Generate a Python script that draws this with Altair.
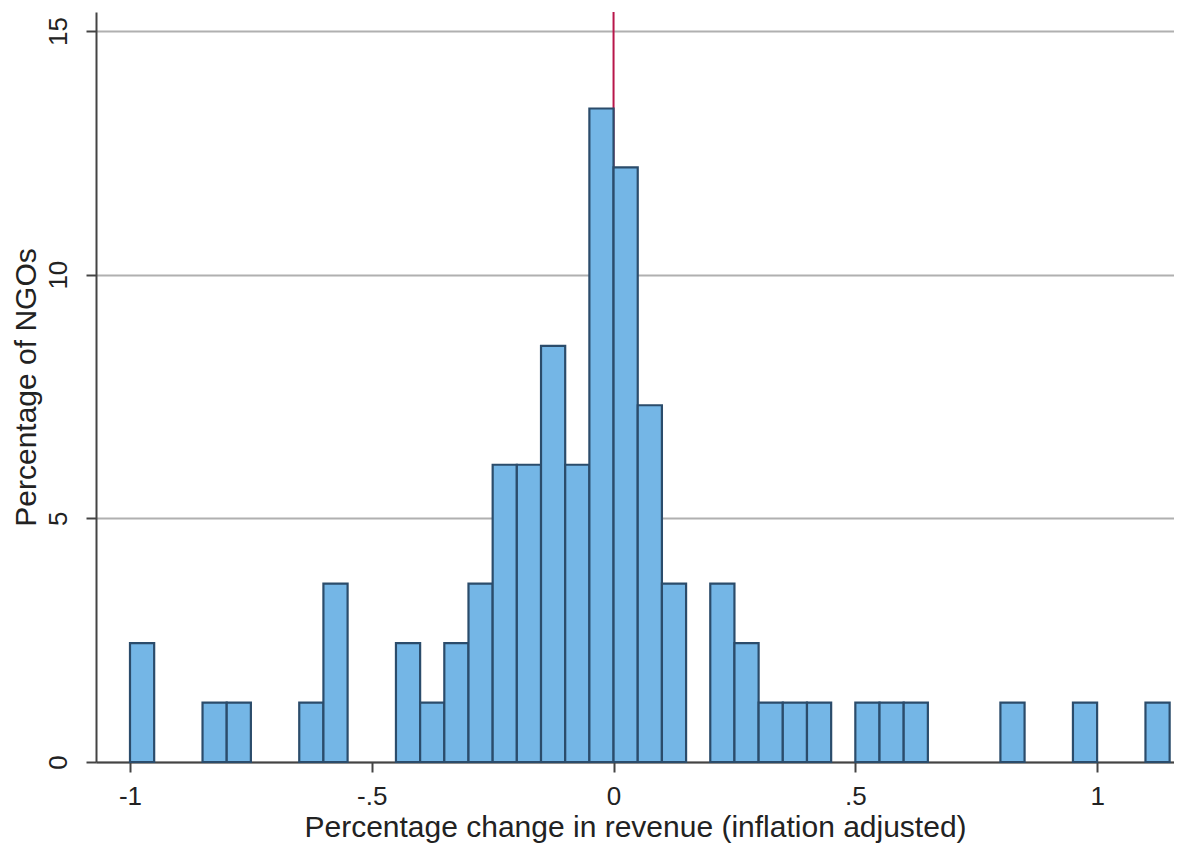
import altair as alt
import pandas as pd

# Histogram bins (width 0.05), start of each non-empty bin and its percentage
bin_start = [-1.00, -0.85, -0.80, -0.65, -0.60, -0.45, -0.40, -0.35, -0.30, -0.25,
             -0.20, -0.15, -0.10, -0.05, 0.00, 0.05, 0.10, 0.20, 0.25, 0.30,
             0.35, 0.40, 0.50, 0.55, 0.60, 0.80, 0.95, 1.10]
percent = [2.44, 1.22, 1.22, 1.22, 3.66, 2.44, 1.22, 2.44, 3.66, 6.10,
           6.10, 8.54, 6.10, 13.41, 12.20, 7.32, 3.66, 3.66, 2.44, 1.22,
           1.22, 1.22, 1.22, 1.22, 1.22, 1.22, 1.22, 1.22]
bin_width = 0.05

x_ticks = [-1, -0.5, 0, 0.5, 1]
y_ticks = [0, 5, 10, 15]

df = pd.DataFrame({"start": bin_start, "pct": percent})
df["end"] = df["start"] + bin_width
df["base"] = 0.0

FONT = "Liberation Sans"
TXT = "#222222"
xscale = alt.Scale(domain=[-1.0703, 1.159], nice=False, zero=False)
yscale = alt.Scale(domain=[0, 15.39], nice=False)

bars = alt.Chart(df).mark_bar(
    fill="#74b6e6", stroke="#2b4c6b", strokeWidth=2.2, opacity=1
).encode(
    x=alt.X("start:Q", scale=xscale,
            axis=alt.Axis(values=x_ticks, title="Percentage change in revenue (inflation adjusted)",
                          labelExpr="replace(replace(format(datum.value, '.1~f'), '\u2212', '-'), '0.', '.')",
                          grid=False, domainColor="#444444", domainWidth=2,
                          tickColor="#444444", tickWidth=2, tickSize=10,
                          labelFont=FONT, labelFontSize=26, labelColor=TXT,
                          labelPadding=11, titleFont=FONT, titleFontSize=30,
                          titleFontWeight="normal", titleColor=TXT, titlePadding=3)),
    x2="end:Q",
    y=alt.Y("pct:Q", scale=yscale,
            axis=alt.Axis(values=y_ticks, title="Percentage of NGOs", format="d",
                          grid=True, gridColor="#b0b0b0", gridWidth=2,
                          domainColor="#444444", domainWidth=2,
                          tickColor="#444444", tickWidth=2, tickSize=10,
                          labelAngle=270, labelAlign="center", labelBaseline="bottom",
                          labelFont=FONT, labelFontSize=26, labelColor=TXT,
                          labelPadding=15, titleFont=FONT, titleFontSize=30,
                          titleFontWeight="normal", titleColor=TXT, titlePadding=4)),
    y2="base:Q",
)

zero_line = alt.Chart(pd.DataFrame({"x": [0]})).mark_rule(
    color="#b8164a", strokeWidth=2
).encode(x=alt.X("x:Q", scale=xscale))

chart = alt.layer(zero_line, bars).properties(
    width=1078, height=750,
    autosize=alt.AutoSizeParams(type="none"),
    padding={"left": 88, "top": 4, "right": 0, "bottom": 81},
    background="white",
).configure_view(stroke=None)

chart.save("out.html", embed_options={"renderer": "svg", "actions": False})
